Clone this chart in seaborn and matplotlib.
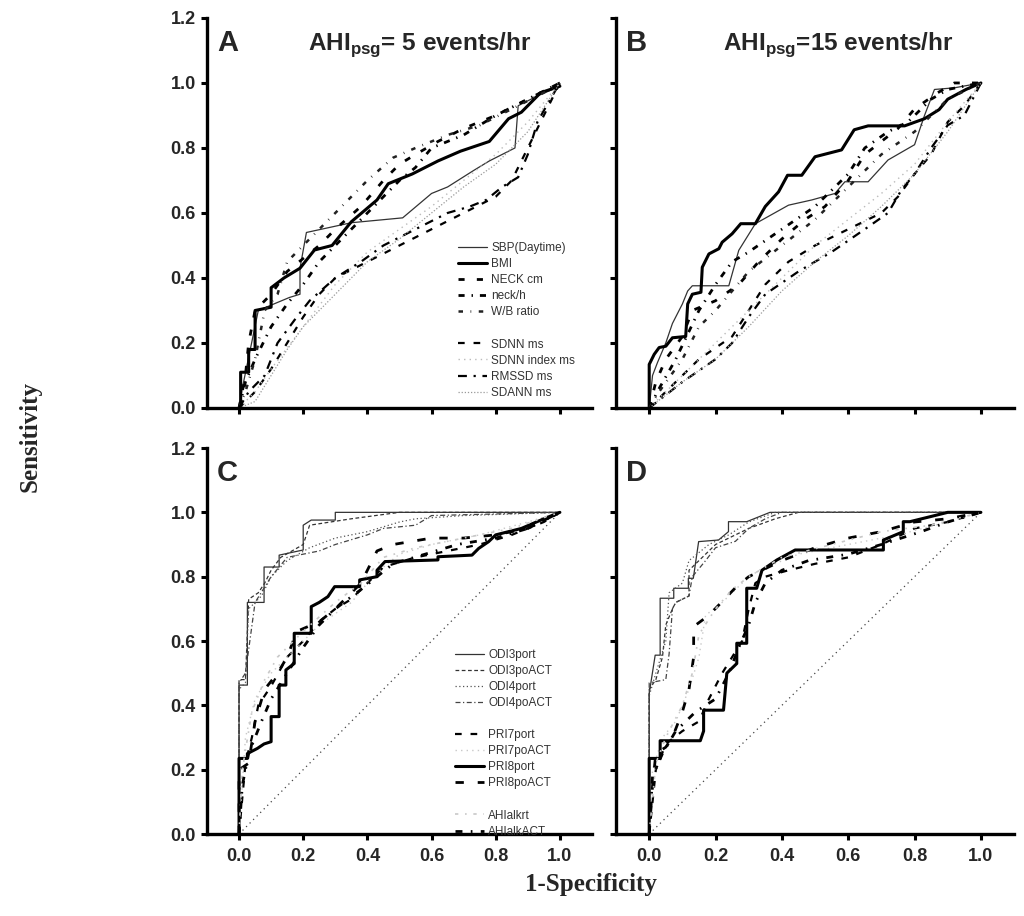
import matplotlib
matplotlib.use('Agg')
import matplotlib.pyplot as plt
from matplotlib.lines import Line2D
import seaborn as sns

# panel A / B  (AHI 5 and 15) - anthropometric & HRV predictors, (1-spec, sens)
a_curves = {
    'SBP(Daytime)': [(0, 0), (0.01, 0.06), (0.06, 0.30), (0.157, 0.34), (0.19, 0.35), (0.19, 0.43),
                     (0.21, 0.54), (0.35, 0.57), (0.51, 0.585), (0.60, 0.66), (0.65, 0.68), (0.73, 0.73),
                     (0.78, 0.76), (0.86, 0.80), (0.87, 0.93), (0.93, 0.96), (1.0, 0.99)],
    'BMI': [(0.005, 0), (0.005, 0.11), (0.03, 0.11), (0.03, 0.18), (0.05, 0.18), (0.05, 0.30),
            (0.10, 0.31), (0.10, 0.37), (0.14, 0.40), (0.19, 0.43), (0.235, 0.486), (0.29, 0.50),
            (0.35, 0.573), (0.43, 0.64), (0.465, 0.69), (0.54, 0.72), (0.62, 0.76), (0.69, 0.79),
            (0.78, 0.82), (0.84, 0.89), (0.88, 0.91), (0.94, 0.97), (1.0, 0.99)],
    'NECK cm': [(0, 0), (0.02, 0.10), (0.03, 0.20), (0.05, 0.30), (0.10, 0.35), (0.15, 0.42),
                (0.20, 0.46), (0.25, 0.50), (0.30, 0.55), (0.38, 0.62), (0.45, 0.70), (0.50, 0.75),
                (0.55, 0.78), (0.62, 0.82), (0.70, 0.86), (0.80, 0.90), (0.90, 0.95), (1.0, 1.0)],
    'neck/h': [(0, 0), (0.02, 0.08), (0.05, 0.15), (0.10, 0.25), (0.15, 0.32), (0.20, 0.38),
               (0.25, 0.45), (0.30, 0.50), (0.35, 0.55), (0.42, 0.62), (0.50, 0.70), (0.55, 0.74),
               (0.60, 0.80), (0.70, 0.84), (0.80, 0.90), (0.90, 0.95), (1.0, 1.0)],
    'W/B ratio': [(0, 0), (0.02, 0.05), (0.05, 0.15), (0.08, 0.30), (0.12, 0.35), (0.15, 0.45),
                  (0.20, 0.50), (0.25, 0.55), (0.30, 0.60), (0.35, 0.65), (0.40, 0.70), (0.48, 0.77),
                  (0.55, 0.80), (0.65, 0.84), (0.75, 0.87), (0.85, 0.92), (0.95, 0.97), (1.0, 1.0)],
    'SDNN ms': [(0, 0), (0.05, 0.05), (0.10, 0.12), (0.15, 0.20), (0.20, 0.28), (0.25, 0.35),
                (0.30, 0.40), (0.40, 0.45), (0.50, 0.50), (0.60, 0.55), (0.70, 0.60), (0.80, 0.65),
                (0.85, 0.70), (0.90, 0.80), (0.95, 0.90), (1.0, 1.0)],
    'SDNN index ms': [(0, 0), (0.05, 0.05), (0.10, 0.12), (0.20, 0.25), (0.30, 0.38), (0.40, 0.48),
                      (0.50, 0.55), (0.60, 0.62), (0.70, 0.70), (0.80, 0.78), (0.90, 0.88), (1.0, 1.0)],
    'RMSSD ms': [(0, 0), (0.03, 0.05), (0.08, 0.10), (0.12, 0.20), (0.18, 0.28), (0.22, 0.33),
                 (0.30, 0.40), (0.38, 0.45), (0.45, 0.50), (0.55, 0.55), (0.65, 0.60), (0.72, 0.62),
                 (0.77, 0.64), (0.82, 0.68), (0.87, 0.71), (0.90, 0.78), (0.93, 0.88), (0.97, 0.95),
                 (1.0, 1.0)],
    'SDANN ms': [(0, 0), (0.05, 0.02), (0.10, 0.10), (0.15, 0.18), (0.20, 0.25), (0.30, 0.35),
                 (0.40, 0.45), (0.50, 0.52), (0.60, 0.60), (0.70, 0.68), (0.80, 0.75), (0.90, 0.85),
                 (1.0, 1.0)],
}

b_curves = {
    'SBP(Daytime)': [(0, 0), (0.01, 0.10), (0.025, 0.14), (0.05, 0.20), (0.07, 0.26), (0.10, 0.32),
                     (0.116, 0.36), (0.13, 0.376), (0.24, 0.376), (0.27, 0.485), (0.32, 0.567),
                     (0.42, 0.624), (0.49, 0.64), (0.56, 0.66), (0.59, 0.696), (0.66, 0.696),
                     (0.72, 0.763), (0.80, 0.81), (0.83, 0.90), (0.86, 0.98), (0.92, 0.985), (1.0, 1.0)],
    'BMI': [(0, 0), (0, 0.134), (0.015, 0.165), (0.03, 0.186), (0.05, 0.19), (0.07, 0.216),
            (0.11, 0.22), (0.116, 0.32), (0.13, 0.35), (0.156, 0.356), (0.16, 0.433), (0.18, 0.474),
            (0.21, 0.49), (0.22, 0.51), (0.25, 0.536), (0.276, 0.567), (0.32, 0.567), (0.35, 0.62),
            (0.39, 0.665), (0.417, 0.716), (0.46, 0.716), (0.50, 0.773), (0.58, 0.794),
            (0.618, 0.856), (0.66, 0.868), (0.77, 0.868), (0.83, 0.89), (0.874, 0.918),
            (0.90, 0.95), (0.955, 0.98), (1.0, 1.0)],
    'NECK cm': [(0, 0), (0.02, 0.08), (0.05, 0.15), (0.10, 0.22), (0.13, 0.30), (0.20, 0.33),
                (0.27, 0.38), (0.33, 0.45), (0.40, 0.52), (0.47, 0.58), (0.53, 0.62), (0.60, 0.70),
                (0.65, 0.78), (0.70, 0.82), (0.75, 0.86), (0.80, 0.92), (0.87, 0.97), (0.92, 1.0),
                (1.0, 1.0)],
    'neck/h': [(0, 0), (0.03, 0.06), (0.08, 0.15), (0.15, 0.30), (0.20, 0.38), (0.25, 0.45),
               (0.30, 0.48), (0.40, 0.55), (0.50, 0.62), (0.55, 0.67), (0.60, 0.72), (0.65, 0.80),
               (0.72, 0.85), (0.78, 0.88), (0.85, 0.95), (0.90, 0.98), (1.0, 1.0)],
    'W/B ratio': [(0, 0), (0.03, 0.05), (0.10, 0.15), (0.15, 0.25), (0.20, 0.30), (0.30, 0.42),
                  (0.40, 0.50), (0.50, 0.58), (0.60, 0.68), (0.70, 0.78), (0.80, 0.85), (0.90, 0.95),
                  (1.0, 1.0)],
    'SDNN ms': [(0, 0), (0.05, 0.05), (0.10, 0.10), (0.15, 0.15), (0.25, 0.22), (0.30, 0.30),
                (0.35, 0.38), (0.42, 0.45), (0.50, 0.50), (0.60, 0.55), (0.70, 0.60), (0.75, 0.65),
                (0.80, 0.72), (0.85, 0.78), (0.90, 0.88), (0.95, 0.93), (1.0, 1.0)],
    'SDNN index ms': [(0, 0), (0.10, 0.10), (0.20, 0.20), (0.30, 0.30), (0.40, 0.40), (0.50, 0.50),
                      (0.60, 0.58), (0.70, 0.66), (0.80, 0.75), (0.90, 0.88), (1.0, 1.0)],
    'RMSSD ms': [(0, 0), (0.05, 0.04), (0.10, 0.08), (0.20, 0.15), (0.25, 0.20), (0.30, 0.28),
                 (0.35, 0.35), (0.45, 0.42), (0.55, 0.48), (0.65, 0.55), (0.72, 0.60), (0.76, 0.67),
                 (0.80, 0.72), (0.85, 0.80), (0.90, 0.87), (0.95, 0.90), (1.0, 1.0)],
    'SDANN ms': [(0, 0), (0.10, 0.08), (0.20, 0.15), (0.30, 0.25), (0.40, 0.36), (0.50, 0.45),
                 (0.60, 0.53), (0.70, 0.62), (0.80, 0.72), (0.90, 0.85), (1.0, 1.0)],
}

# panel C / D - oximetry & respiratory indices
c_curves = {
    'ODI3port': [(0, 0), (0, 0.463), (0.026, 0.463), (0.026, 0.72), (0.078, 0.72), (0.078, 0.83),
                 (0.125, 0.83), (0.125, 0.867), (0.20, 0.883), (0.20, 0.96), (0.225, 0.976),
                 (0.30, 0.976), (0.30, 1.0), (1.0, 1.0)],
    'ODI3poACT': [(0, 0), (0, 0.48), (0.02, 0.48), (0.03, 0.73), (0.06, 0.75), (0.08, 0.78),
                  (0.10, 0.82), (0.13, 0.86), (0.20, 0.90), (0.22, 0.96), (0.35, 0.98), (0.50, 1.0),
                  (1.0, 1.0)],
    'ODI4port': [(0, 0), (0, 0.45), (0.02, 0.47), (0.03, 0.70), (0.07, 0.74), (0.10, 0.80),
                 (0.15, 0.85), (0.22, 0.89), (0.30, 0.92), (0.40, 0.94), (0.50, 0.97), (0.55, 0.98),
                 (0.70, 0.99), (1.0, 1.0)],
    'ODI4poACT': [(0, 0), (0, 0.47), (0.02, 0.50), (0.05, 0.72), (0.10, 0.80), (0.15, 0.86),
                  (0.25, 0.88), (0.30, 0.90), (0.40, 0.93), (0.45, 0.95), (0.55, 0.96), (0.60, 0.99),
                  (1.0, 1.0)],
    'PRI7port': [(0, 0), (0.02, 0.22), (0.04, 0.30), (0.06, 0.40), (0.10, 0.46), (0.15, 0.55),
                 (0.20, 0.60), (0.25, 0.66), (0.30, 0.70), (0.35, 0.73), (0.40, 0.78), (0.45, 0.83),
                 (0.55, 0.86), (0.65, 0.88), (0.75, 0.90), (0.85, 0.93), (0.95, 0.97), (1.0, 1.0)],
    'PRI7poACT': [(0, 0), (0.02, 0.30), (0.05, 0.42), (0.10, 0.50), (0.15, 0.55), (0.20, 0.60),
                  (0.25, 0.65), (0.35, 0.72), (0.40, 0.78), (0.45, 0.83), (0.50, 0.87), (0.60, 0.90),
                  (0.75, 0.93), (0.90, 0.97), (1.0, 1.0)],
    'PRI8port': [(0, 0), (0, 0.235), (0.026, 0.235), (0.026, 0.25), (0.057, 0.266), (0.078, 0.28),
                 (0.10, 0.287), (0.10, 0.365), (0.125, 0.365), (0.125, 0.463), (0.146, 0.463),
                 (0.146, 0.51), (0.172, 0.53), (0.172, 0.624), (0.225, 0.624), (0.225, 0.707),
                 (0.25, 0.72), (0.277, 0.738), (0.298, 0.769), (0.376, 0.769), (0.376, 0.79),
                 (0.43, 0.80), (0.43, 0.82), (0.455, 0.847), (0.62, 0.852), (0.62, 0.862),
                 (0.726, 0.867), (0.747, 0.888), (0.778, 0.909), (0.80, 0.93), (0.88, 0.95),
                 (0.95, 0.98), (1.0, 1.0)],
    'PRI8poACT': [(0, 0), (0, 0.20), (0.03, 0.22), (0.05, 0.35), (0.08, 0.45), (0.12, 0.50),
                  (0.15, 0.55), (0.18, 0.63), (0.25, 0.66), (0.30, 0.70), (0.35, 0.75), (0.38, 0.78),
                  (0.40, 0.82), (0.43, 0.88), (0.48, 0.90), (0.60, 0.92), (0.70, 0.92), (0.80, 0.93),
                  (0.90, 0.95), (1.0, 1.0)],
    'AHIalkrt': [(0, 0), (0.01, 0.20), (0.04, 0.38), (0.08, 0.48), (0.12, 0.55), (0.20, 0.63),
                 (0.30, 0.72), (0.38, 0.78), (0.45, 0.86), (0.55, 0.89), (0.70, 0.92), (0.85, 0.95),
                 (1.0, 1.0)],
    'AHIalkACT': [(0, 0), (0.01, 0.15), (0.03, 0.25), (0.07, 0.35), (0.10, 0.42), (0.15, 0.50),
                  (0.20, 0.58), (0.25, 0.65), (0.30, 0.70), (0.38, 0.76), (0.43, 0.80), (0.48, 0.84),
                  (0.58, 0.87), (0.68, 0.90), (0.80, 0.92), (0.90, 0.95), (1.0, 1.0)],
}

d_curves = {
    'ODI3port': [(0, 0), (0, 0.437), (0.018, 0.556), (0.033, 0.556), (0.033, 0.733), (0.074, 0.733),
                 (0.074, 0.764), (0.118, 0.764), (0.118, 0.795), (0.133, 0.795), (0.149, 0.909),
                 (0.209, 0.914), (0.239, 0.94), (0.239, 0.971), (0.294, 0.971), (0.364, 1.0),
                 (1.0, 1.0)],
    'ODI3poACT': [(0, 0), (0, 0.45), (0.02, 0.48), (0.04, 0.55), (0.05, 0.65), (0.07, 0.70),
                  (0.08, 0.72), (0.12, 0.74), (0.12, 0.82), (0.15, 0.85), (0.20, 0.90), (0.26, 0.93),
                  (0.30, 0.95), (0.38, 0.98), (0.45, 1.0), (1.0, 1.0)],
    'ODI4port': [(0, 0), (0, 0.43), (0.02, 0.50), (0.05, 0.60), (0.06, 0.75), (0.10, 0.78),
                 (0.12, 0.85), (0.18, 0.90), (0.24, 0.93), (0.30, 0.97), (0.38, 1.0), (1.0, 1.0)],
    'ODI4poACT': [(0, 0), (0, 0.47), (0.05, 0.48), (0.06, 0.56), (0.07, 0.70), (0.08, 0.72),
                  (0.12, 0.74), (0.13, 0.80), (0.17, 0.85), (0.20, 0.89), (0.26, 0.91), (0.30, 0.95),
                  (0.35, 0.98), (0.40, 1.0), (1.0, 1.0)],
    'PRI7port': [(0, 0), (0.02, 0.20), (0.05, 0.28), (0.10, 0.32), (0.15, 0.35), (0.18, 0.42),
                 (0.22, 0.50), (0.25, 0.55), (0.28, 0.60), (0.30, 0.70), (0.32, 0.78), (0.35, 0.80),
                 (0.42, 0.82), (0.50, 0.84), (0.60, 0.86), (0.70, 0.90), (0.80, 0.95), (0.90, 0.97),
                 (1.0, 1.0)],
    'PRI7poACT': [(0, 0), (0.01, 0.20), (0.04, 0.30), (0.08, 0.35), (0.12, 0.45), (0.15, 0.55),
                  (0.17, 0.68), (0.22, 0.72), (0.28, 0.78), (0.33, 0.82), (0.45, 0.87), (0.60, 0.90),
                  (0.75, 0.93), (0.90, 0.97), (1.0, 1.0)],
    'PRI8port': [(0, 0), (0, 0.235), (0.033, 0.235), (0.033, 0.29), (0.154, 0.29), (0.164, 0.32),
                 (0.164, 0.385), (0.224, 0.385), (0.234, 0.50), (0.264, 0.53), (0.264, 0.593),
                 (0.294, 0.593), (0.294, 0.764), (0.324, 0.764), (0.34, 0.82), (0.385, 0.852),
                 (0.44, 0.883), (0.706, 0.883), (0.706, 0.914), (0.766, 0.94), (0.766, 0.971),
                 (0.786, 0.971), (0.90, 1.0), (1.0, 1.0)],
    'PRI8poACT': [(0, 0), (0.01, 0.15), (0.02, 0.25), (0.05, 0.27), (0.07, 0.30), (0.10, 0.38),
                  (0.12, 0.45), (0.134, 0.55), (0.134, 0.645), (0.18, 0.68), (0.224, 0.727),
                  (0.264, 0.77), (0.30, 0.80), (0.40, 0.85), (0.50, 0.89), (0.60, 0.92), (0.70, 0.94),
                  (0.80, 0.97), (0.90, 0.98), (1.0, 1.0)],
    'AHIalkrt': [(0, 0), (0.02, 0.22), (0.05, 0.30), (0.10, 0.40), (0.13, 0.50), (0.15, 0.62),
                 (0.20, 0.70), (0.25, 0.76), (0.30, 0.80), (0.40, 0.86), (0.55, 0.90), (0.70, 0.94),
                 (0.85, 0.96), (1.0, 1.0)],
    'AHIalkACT': [(0, 0), (0.01, 0.18), (0.04, 0.25), (0.08, 0.32), (0.14, 0.38), (0.20, 0.42),
                  (0.24, 0.50), (0.27, 0.58), (0.30, 0.65), (0.32, 0.72), (0.35, 0.78), (0.40, 0.82),
                  (0.48, 0.85), (0.60, 0.87), (0.70, 0.90), (0.82, 0.94), (0.90, 0.97), (1.0, 1.0)],
}

diag = [(0, 0), (1, 1)]

panel_letters = ['A', 'B', 'C', 'D']
titles = ['AHI$_{\\mathrm{psg}}$= 5 events/hr', 'AHI$_{\\mathrm{psg}}$=15 events/hr']
x_ticks = [0.0, 0.2, 0.4, 0.6, 0.8, 1.0]
y_ticks = [0.0, 0.2, 0.4, 0.6, 0.8, 1.0, 1.2]

# line looks (colour, width, dash)
styles = {
    'SBP(Daytime)': ('#333333', 0.9, '-'),
    'BMI': ('black', 2.2, '-'),
    'NECK cm': ('black', 2.0, (0, (2.2, 4.4))),
    'neck/h': ('black', 2.0, (0, (2.2, 2.5, 0.5, 2.5))),
    'W/B ratio': ('#222222', 1.8, (0, (1.8, 3, 0.3, 3))),
    'SDNN ms': ('black', 1.6, (0, (3, 4))),
    'SDNN index ms': ('#bbbbbb', 1.0, (0, (1, 3))),
    'RMSSD ms': ('black', 1.6, (0, (4, 3, 1, 3))),
    'SDANN ms': ('#999999', 0.9, (0, (1, 1.5))),
    'ODI3port': ('#333333', 0.9, '-'),
    'ODI3poACT': ('#333333', 0.9, (0, (3, 2))),
    'ODI4port': ('#555555', 0.9, (0, (1, 2))),
    'ODI4poACT': ('#444444', 0.9, (0, (4, 2, 1, 2))),
    'PRI7port': ('black', 1.6, (0, (3, 4))),
    'PRI7poACT': ('#c8c8c8', 1.0, (0, (1, 3))),
    'PRI8port': ('black', 2.2, '-'),
    'PRI8poACT': ('black', 2.0, (0, (3, 5))),
    'AHIalkrt': ('#c8c8c8', 1.2, (0, (2, 4, 1, 4))),
    'AHIalkACT': ('black', 2.0, (0, (2.5, 3, 0.6, 3))),
}

sns.set_style('ticks')
plt.rcParams['font.family'] = ['Liberation Sans', 'DejaVu Sans']
plt.rcParams['font.weight'] = 'bold'
plt.rcParams['mathtext.fontset'] = 'custom'
plt.rcParams['mathtext.rm'] = 'Liberation Sans:bold'
plt.rcParams['mathtext.bf'] = 'Liberation Sans:bold'

fig = plt.figure(figsize=(10.24, 9.16), dpi=100)
ax_a = fig.add_axes([0.2021, 0.5546, 0.376, 0.4258])
ax_b = fig.add_axes([0.6016, 0.5546, 0.3887, 0.4258])
ax_c = fig.add_axes([0.2021, 0.0895, 0.376, 0.4214])
ax_d = fig.add_axes([0.6016, 0.0895, 0.3887, 0.4214])
axes = [ax_a, ax_b, ax_c, ax_d]


def draw(ax, curves):
    for name, pts in curves.items():
        col, lw, ls = styles[name]
        sns.lineplot(x=[p[0] for p in pts], y=[p[1] for p in pts], ax=ax, sort=False,
                     estimator=None, color=col, lw=lw, linestyle=ls, label=name, legend=False)


draw(ax_a, a_curves)
draw(ax_b, b_curves)
for ax in (ax_c, ax_d):
    sns.lineplot(x=[p[0] for p in diag], y=[p[1] for p in diag], ax=ax, sort=False,
                 estimator=None, color='#444444', lw=0.9, linestyle=(0, (1, 3)), legend=False)
draw(ax_c, c_curves)
draw(ax_d, d_curves)

for i, ax in enumerate(axes):
    ax.set_xlim(-0.1, 1.1)
    ax.set_ylim(0, 1.2)
    ax.set_xticks(x_ticks)
    ax.set_yticks(y_ticks)
    ax.set_xticklabels(['%.1f' % t for t in x_ticks])
    ax.set_yticklabels(['%.1f' % t for t in y_ticks])
    ax.set_xlabel('')
    ax.set_ylabel('')
    sns.despine(ax=ax)
    for s in ('left', 'bottom'):
        ax.spines[s].set_linewidth(2.4)
        ax.spines[s].set_color('black')
    ax.tick_params(axis='both', direction='out', length=4, width=2.2, color='black',
                   labelsize=13, pad=4)
    ax.tick_params(axis='x', pad=6)
    if i in (1, 3):
        ax.tick_params(axis='y', labelleft=False)
    if i in (0, 1):
        ax.tick_params(axis='x', labelbottom=False)
    ax.text(0.026, 0.972, panel_letters[i], transform=ax.transAxes, ha='left', va='top',
            fontsize=21, fontweight='bold')

ax_a.text(0.262, 0.918, titles[0], transform=ax_a.transAxes, fontsize=17.5,
          fontweight='bold', va='baseline')
ax_b.text(0.269, 0.918, titles[1], transform=ax_b.transAxes, fontsize=17.5,
          fontweight='bold', va='baseline')

blank = Line2D([], [], color='none')


def add_legend(ax, names, gaps, anchor):
    handles, labels = [], []
    lines = {l.get_label(): l for l in ax.get_lines()}
    for n in names:
        if n in gaps:
            handles.append(blank)
            labels.append(' ')
        handles.append(lines[n])
        labels.append(n)
    leg = ax.legend(handles, labels, loc='upper left', bbox_to_anchor=anchor,
                    bbox_transform=fig.transFigure, frameon=False, borderpad=0,
                    borderaxespad=0, handlelength=2.5, handletextpad=0.35,
                    labelspacing=0.345, prop={'family': 'Liberation Sans', 'size': 8.5,
                                              'weight': 'normal'})
    for t in leg.get_texts():
        t.set_color('#333333')


add_legend(ax_a, list(a_curves.keys()), ['SDNN ms'], (0.447, 0.7357))
add_legend(ax_c, list(c_curves.keys()), ['PRI7port', 'AHIalkrt'], (0.444, 0.2916))

fig.text(0.029, 0.524, 'Sensitivity', rotation=90, ha='center', va='center',
         family='Liberation Serif', fontsize=18, fontweight='bold')
fig.text(0.577, 0.034, '1-Specificity', ha='center', va='center',
         family='Liberation Serif', fontsize=18, fontweight='bold')

fig.savefig('out.png', dpi=100)
